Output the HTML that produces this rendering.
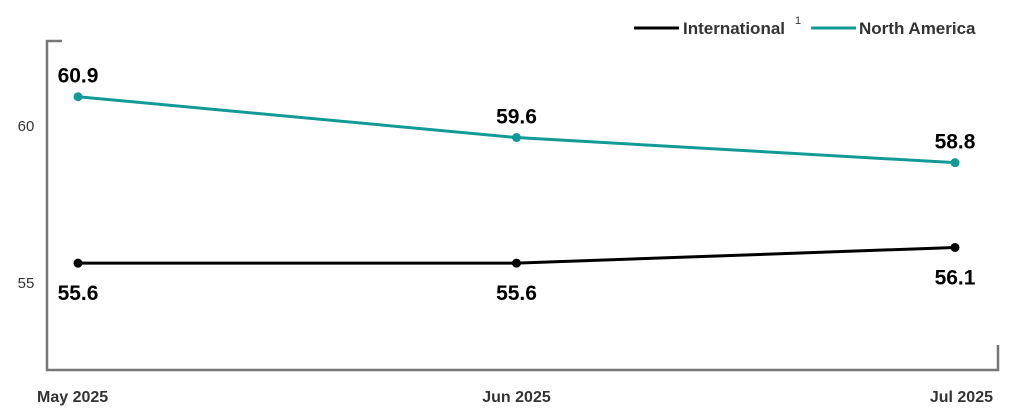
<!DOCTYPE html>
<html><head><meta charset="utf-8"><style>
body{margin:0;background:#fff;}
svg{display:block;font-family:"Liberation Sans",sans-serif;}
</style></head><body>
<svg id="chart" width="1013" height="419" viewBox="0 0 1013 419" xmlns="http://www.w3.org/2000/svg">
<g>
<line x1="634" y1="28" x2="679" y2="28" stroke="#000" stroke-width="3"/>
<text x="683" y="34" font-size="17" font-weight="bold" fill="#333">International</text>
<text x="795" y="24" font-size="11" fill="#333">1</text>
<line x1="811" y1="28" x2="856" y2="28" stroke="#129a97" stroke-width="3"/>
<text x="859" y="34" font-size="17" font-weight="bold" fill="#333">North America</text>
</g>
<path d="M62 41 H47 V370 H998 V345" fill="none" stroke="#777" stroke-width="2.5"/>
<g id="ticks"></g>
<g id="series"></g>
</svg>
<script>
const categories=["May 2025","Jun 2025","Jul 2025"];
const international=[55.6,55.6,56.1];
const northAmerica=[60.9,59.6,58.8];
const yTicks=[55,60];
const ns="http://www.w3.org/2000/svg";
const xPos=[78,524,955];
function x(i){return xPos[0]+(xPos[2]-xPos[0])*i/(categories.length-1);}
function y(v){return 282-(v-55)*31.4;}
function mk(tag,attrs,parent){const e=document.createElementNS(ns,tag);for(const k in attrs)e.setAttribute(k,attrs[k]);parent.appendChild(e);return e;}
const tk=document.getElementById('ticks');
yTicks.forEach(v=>{const t=mk('text',{x:26,y:y(v)+6,'font-size':15,fill:'#333','text-anchor':'middle'},tk);t.textContent=v;

});
categories.forEach((c,i)=>{const anchor=i===0?'start':(i===categories.length-1?'end':'middle');
const xx=i===0?37:(i===categories.length-1?993:x(i));
const t=mk('text',{x:xx,y:402,'font-size':16,'font-weight':'bold',fill:'#333','text-anchor':anchor},tk);t.textContent=c;

});
const sg=document.getElementById('series');
function draw(vals,color,name,above){
 const p=mk('polyline',{points:vals.map((v,i)=>x(i)+','+y(v)).join(' '),fill:'none',stroke:color,'stroke-width':3},sg);
 
 
 vals.forEach((v,i)=>{
  const c=mk('circle',{cx:x(i),cy:y(v),r:4.5,fill:color},sg);
  
  
  const up=above[i];
  const t=mk('text',{x:x(i),y:up?y(v)-14:y(v)+37,'font-size':21,'font-weight':'bold',fill:'#000','text-anchor':'middle'},sg);
  t.textContent=v.toFixed(1);
  
  
 });
}
draw(northAmerica,'#129a97','north-america',[true,true,true]);
draw(international,'#000','international',[false,false,false]);
</script>
</body></html>
